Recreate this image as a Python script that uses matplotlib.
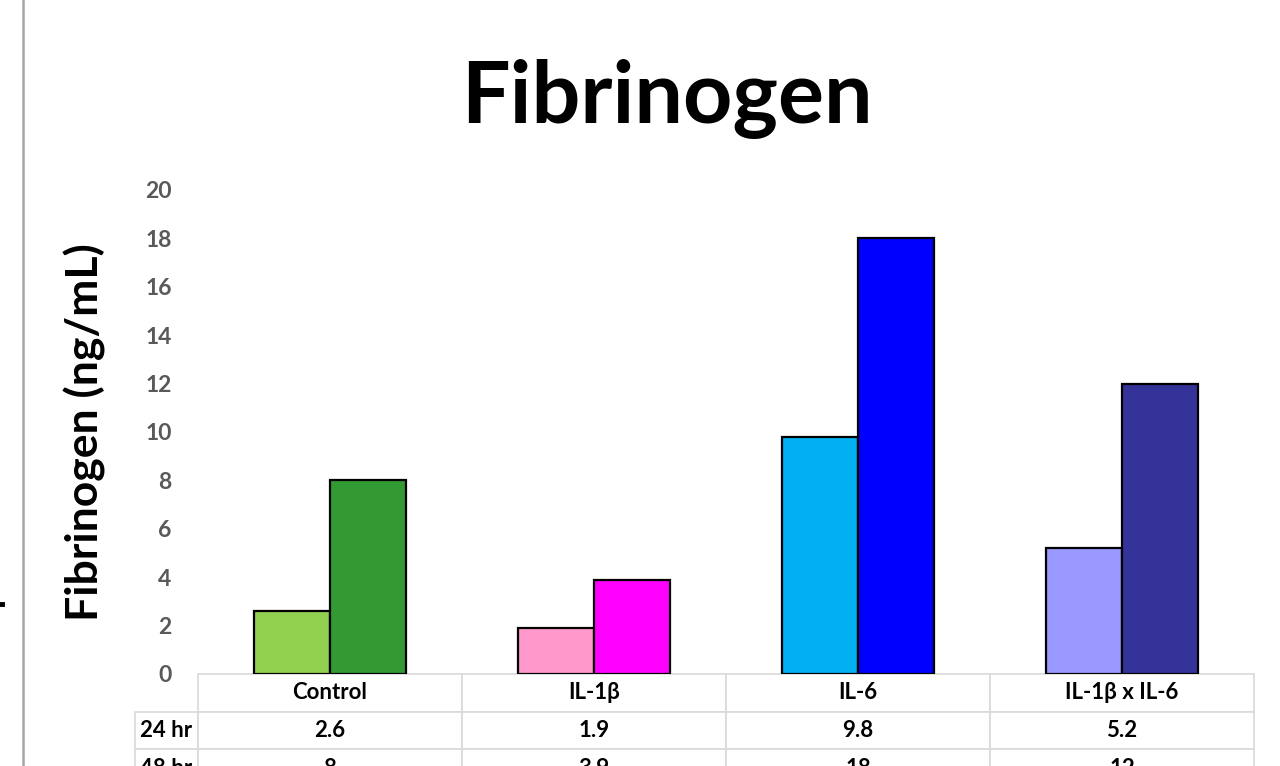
import matplotlib.pyplot as plt
from matplotlib.table import Table
from matplotlib.lines import Line2D
import numpy as np

# Дані
groups = ["Control", "IL-1β", "IL-6", "IL-1β x IL-6"]
row_labels = ["24 hr", "48 hr"]
vals_24 = [2.6, 1.9, 9.8, 5.2]
vals_48 = [8, 3.9, 18, 12]
colors_24 = ["#92D050", "#FF99CC", "#00B0F0", "#9999FF"]
colors_48 = ["#339933", "#FF00FF", "#0000FF", "#333399"]

plt.rcParams['font.family'] = ['Lato', 'DejaVu Sans']

fig = plt.figure(figsize=(12.8, 7.66), dpi=100)
ax = fig.add_axes([198 / 1280, 1 - 674 / 766, 1056 / 1280, 484 / 766])

x = np.arange(len(groups))
w = 0.288
ax.bar(x - w / 2, vals_24, w, color=colors_24, edgecolor="black", linewidth=1.6, zorder=3)
ax.bar(x + w / 2, vals_48, w, color=colors_48, edgecolor="black", linewidth=1.6, zorder=3)

ax.set_xlim(-0.5, len(groups) - 0.5)
ax.set_ylim(0, 20)
ax.set_yticks(range(0, 21, 2))
ax.set_xticks([])
ax.tick_params(axis="y", length=0, pad=19, labelsize=16.5, labelcolor="#595959")
for lab in ax.get_yticklabels():
    lab.set_fontweight("bold")
for s in ax.spines.values():
    s.set_visible(False)

ax.set_ylabel("Fibrinogen (ng/mL)", fontsize=32, fontweight="bold", va="center")
ax.yaxis.set_label_coords(-0.107, 0.5)

# Заголовок
fig.suptitle("Fibrinogen", x=667 / 1280, y=1 - 123 / 766, va="baseline",
             fontsize=62, fontweight="bold")

# Таблиця даних під графіком (bbox задає лише сітку без підписів рядків)
tb = Table(ax, bbox=[0, -113 / 484, 1, 113 / 484])
tb.auto_set_font_size(False)
cw, lw, h = 0.25, 63 / 1056, 1
edge = "#D9D9D9"


def add(r, c, width, text):
    cell = tb.add_cell(r, c, width, h, text=text, loc="center",
                       edgecolor=edge, facecolor="white")
    cell.set_linewidth(1.2)
    t = cell.get_text()
    t.set_fontsize(16)
    t.set_fontweight("bold")
    t.set_color("black")


for j, g in enumerate(groups):
    add(0, j, cw, g)
for i, (lab, vals) in enumerate(zip(row_labels, [vals_24, vals_48]), start=1):
    add(i, -1, lw, lab)
    for j, v in enumerate(vals):
        add(i, j, cw, f"{v:g}")
ax.add_table(tb)

# Рамка зліва
fig.add_artist(Line2D([22.8 / 1280] * 2, [0, 1], color="#A6A6A6", linewidth=1.8))
fig.add_artist(Line2D([0, 2 / 1280], [1 - 604 / 766] * 2, color="black", linewidth=3.5))

fig.savefig("out.png", dpi=100)
